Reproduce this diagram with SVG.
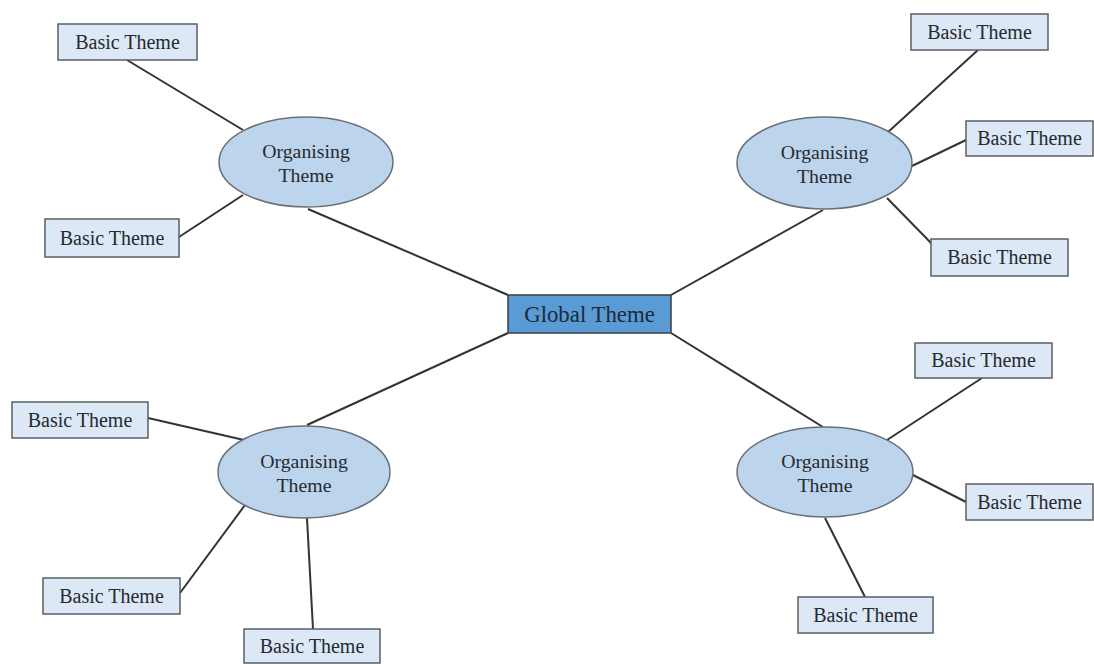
<svg xmlns="http://www.w3.org/2000/svg" width="1094" height="664" viewBox="0 0 1094 664">
<style>
.bt rect{fill:#dce8f6;stroke:#5a5f66;stroke-width:1.5}
.ot ellipse{fill:#bcd4ec;stroke:#6a6f76;stroke-width:1.5}
.gt rect{fill:#5b9bd5;stroke:#3a3f46;stroke-width:1.5}
text{font-family:"Liberation Serif","Times New Roman",serif;fill:#262a30;text-anchor:middle}
.bt text{font-size:20px}
.ot text{font-size:19.8px}
.gt text{font-size:22.8px;fill:#1c2a3a}
#connectors line{stroke:#333;stroke-width:2}
</style>
<rect width="1094" height="664" fill="#fff"/>
<g id="connectors">
<line x1="308" y1="209" x2="508" y2="295"/>
<line x1="823" y1="210" x2="671" y2="295"/>
<line x1="307" y1="425" x2="508" y2="333"/>
<line x1="823" y1="427" x2="671" y2="333"/>
<line x1="127" y1="60" x2="243" y2="130"/>
<line x1="179" y1="237" x2="243" y2="195"/>
<line x1="978" y1="50" x2="887" y2="133"/>
<line x1="966" y1="140" x2="912" y2="166"/>
<line x1="887" y1="198" x2="933" y2="245"/>
<line x1="148" y1="418" x2="244" y2="440"/>
<line x1="180" y1="593" x2="245" y2="505"/>
<line x1="307" y1="518" x2="313" y2="629"/>
<line x1="982" y1="378" x2="887" y2="440"/>
<line x1="966" y1="502" x2="913" y2="475"/>
<line x1="825" y1="518" x2="865" y2="597"/>
</g>
<g id="global" class="gt"><rect x="508" y="295" width="163" height="38"/><text x="589.5" y="322">Global Theme</text></g>
<g id="org-tl" class="ot"><ellipse cx="306" cy="162" rx="87" ry="45"/><text x="306" y="158">Organising</text><text x="306" y="182">Theme</text></g>
<g id="org-tr" class="ot"><ellipse cx="824.5" cy="163" rx="87.5" ry="46"/><text x="824.5" y="159">Organising</text><text x="824.5" y="183">Theme</text></g>
<g id="org-bl" class="ot"><ellipse cx="304" cy="472" rx="86" ry="46"/><text x="304" y="468">Organising</text><text x="304" y="492">Theme</text></g>
<g id="org-br" class="ot"><ellipse cx="825" cy="472" rx="88" ry="45"/><text x="825" y="468">Organising</text><text x="825" y="492">Theme</text></g>
<g id="bt1" class="bt"><rect x="58" y="24" width="139" height="36"/><text x="127.5" y="49">Basic Theme</text></g>
<g id="bt2" class="bt"><rect x="45" y="219" width="134" height="38"/><text x="112" y="245">Basic Theme</text></g>
<g id="bt3" class="bt"><rect x="911" y="14" width="137" height="36"/><text x="979.5" y="39">Basic Theme</text></g>
<g id="bt4" class="bt"><rect x="966" y="121" width="127" height="35"/><text x="1029.5" y="145">Basic Theme</text></g>
<g id="bt5" class="bt"><rect x="931" y="239" width="137" height="37"/><text x="999.5" y="264">Basic Theme</text></g>
<g id="bt6" class="bt"><rect x="12" y="402" width="136" height="36"/><text x="80" y="427">Basic Theme</text></g>
<g id="bt7" class="bt"><rect x="43" y="578" width="137" height="36"/><text x="111.5" y="603">Basic Theme</text></g>
<g id="bt8" class="bt"><rect x="244" y="629" width="136" height="34"/><text x="312" y="653">Basic Theme</text></g>
<g id="bt9" class="bt"><rect x="915" y="343" width="137" height="35"/><text x="983.5" y="367">Basic Theme</text></g>
<g id="bt10" class="bt"><rect x="966" y="484" width="127" height="36"/><text x="1029.5" y="509">Basic Theme</text></g>
<g id="bt11" class="bt"><rect x="798" y="597" width="135" height="36"/><text x="865.5" y="622">Basic Theme</text></g>
</svg>
